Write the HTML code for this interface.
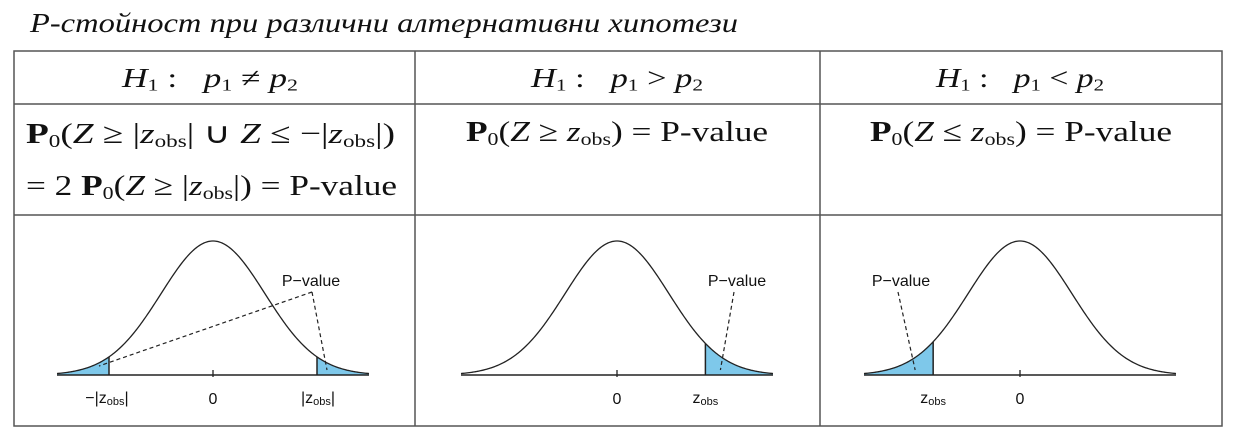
<!DOCTYPE html>
<html><head><meta charset="utf-8"><style>
body{margin:0;width:1237px;height:437px;background:#fff;overflow:hidden;font-family:"Liberation Serif",serif;}
.t{position:absolute;white-space:nowrap;color:#111;transform-origin:0 50%;}
.b{font-weight:bold}
sub{font-size:0.62em;vertical-align:-0.22em;font-style:normal}
i{font-style:italic}
</style></head><body>
<div class="t" data-w="708" style="left:30px;top:8px;font-size:27px;font-style:italic;">P-стойност при различни алтернативни хипотези</div>
<svg width="1237" height="437" style="position:absolute;left:0;top:0" id="svg">
<g stroke="#555" stroke-width="1.5" fill="none">
<rect x="14" y="51" width="1208" height="375"/>
<line x1="14" y1="104" x2="1222" y2="104"/>
<line x1="14" y1="215" x2="1222" y2="215"/>
<line x1="415" y1="51" x2="415" y2="426"/>
<line x1="820" y1="51" x2="820" y2="426"/>
</g>
</svg>
<div class="t" data-w="176" style="left:122px;top:63px;font-size:27px;"><i>H</i><sub>1</sub> :&nbsp;&nbsp; <i>p</i><sub>1</sub> ≠ <i>p</i><sub>2</sub></div>
<div class="t" data-w="172" style="left:531px;top:63px;font-size:27px;"><i>H</i><sub>1</sub> :&nbsp;&nbsp; <i>p</i><sub>1</sub> &gt; <i>p</i><sub>2</sub></div>
<div class="t" data-w="168" style="left:936px;top:63px;font-size:27px;"><i>H</i><sub>1</sub> :&nbsp;&nbsp; <i>p</i><sub>1</sub> &lt; <i>p</i><sub>2</sub></div>
<div class="t" data-w="369" style="left:26px;top:116px;font-size:29px;"><span class="b">P</span><sub>0</sub>(<i>Z</i> ≥ |<i>z</i><sub>obs</sub>| ∪ <i>Z</i> ≤ −|<i>z</i><sub>obs</sub>|)</div>
<div class="t" data-w="371" style="left:26px;top:170px;font-size:29px;">= 2 <span class="b">P</span><sub>0</sub>(<i>Z</i> ≥ |<i>z</i><sub>obs</sub>|) = P-value</div>
<div class="t" data-w="302" style="left:466px;top:116px;font-size:29px;"><span class="b">P</span><sub>0</sub>(<i>Z</i> ≥ <i>z</i><sub>obs</sub>) = P-value</div>
<div class="t" data-w="302" style="left:870px;top:116px;font-size:29px;"><span class="b">P</span><sub>0</sub>(<i>Z</i> ≤ <i>z</i><sub>obs</sub>) = P-value</div>
<script>
document.querySelectorAll('.t[data-w]').forEach(el=>{const w=el.getBoundingClientRect().width;const k=(+el.dataset.w)/w;el.style.transform='scaleX('+k+')';});
const panelCenters=[213,617,1020];
const zobsValues=[2.0,1.7,-1.67];
const tailTypes=['two','right','left'];
const NS='http://www.w3.org/2000/svg';
const svg=document.getElementById('svg');
const axisY=375, peakH=134, pxPerSd=52;
function sx(c,z){return c+z*pxPerSd;}
function sy(z){return axisY-peakH*Math.exp(-z*z/2);}
function mk(tag,attrs){const e=document.createElementNS(NS,tag);for(const k in attrs)e.setAttribute(k,attrs[k]);svg.appendChild(e);return e;}
function areaPath(c,a,b){let d=`M${sx(c,a)},${axisY}`;for(let z=a;z<=b+1e-9;z+=0.02)d+=` L${sx(c,z)},${sy(z)}`;d+=` L${sx(c,b)},${sy(b)} L${sx(c,b)},${axisY} Z`;return d;}
function txt(x,y,s,anchor,name){const t=mk('text',{x:x,y:y,'font-family':'Liberation Sans, sans-serif','font-size':16,'text-anchor':anchor||'middle',fill:'#111'});t.innerHTML=s;

return t;}
panelCenters.forEach((c,i)=>{
  const zo=zobsValues[i],type=tailTypes[i];
  const regions=type==='two'?[[-3,-Math.abs(zo)],[Math.abs(zo),3]]:type==='right'?[[zo,3]]:[[-3,zo]];
  regions.forEach(r=>{
    const p=mk('path',{d:areaPath(c,r[0],r[1]),fill:'#7ec8ea',stroke:'none'});
    
    
    const edge=r[0]===-3?r[1]:r[0];
    const l=mk('line',{x1:sx(c,edge),y1:axisY,x2:sx(c,edge),y2:sy(edge),stroke:'#222','stroke-width':1.5});
    
    
  });
  let d='';for(let z=-3;z<=3.0001;z+=0.02)d+=(d?' L':'M')+sx(c,z)+','+sy(z);
  const cv=mk('path',{d:d,fill:'none',stroke:'#222','stroke-width':1.3});
  
  
  const ax=mk('line',{x1:sx(c,-3),y1:axisY,x2:sx(c,3),y2:axisY,stroke:'#222','stroke-width':1.5});
  
  
  const tk=mk('line',{x1:c,y1:axisY-5,x2:c,y2:axisY+2,stroke:'#222','stroke-width':1.3});
  
  
  txt(c,404,'0','middle','tick-zero');
  const dash={stroke:'#222','stroke-width':1.2,'stroke-dasharray':'4,3',fill:'none'};
  if(type==='two'){
    const a=Math.abs(zo);
    txt(sx(c,-a)-2,403,'−|z<tspan font-size="11" dy="2">obs</tspan><tspan dy="-2">|</tspan>','middle','tick-neg-zobs');
    txt(sx(c,a)+1,403,'|z<tspan font-size="11" dy="2">obs</tspan><tspan dy="-2">|</tspan>','middle','tick-zobs');
    txt(311,286,'P−value','middle','p-value-label');
    const px=312,py=292;
    [[sx(c,a)+10,370],[sx(c,-a)-10,366]].forEach(q=>{const l=mk('line',Object.assign({x1:px,y1:py,x2:q[0],y2:q[1]},dash));
      
      });
  } else {
    txt(sx(c,zo),403,'z<tspan font-size="11" dy="2">obs</tspan>','middle','tick-zobs');
    const lx=type==='right'?737:901;
    txt(lx,286,'P−value','middle','p-value-label');
    const tx=type==='right'?sx(c,zo)+15:sx(c,zo)-18;
    const l=mk('line',Object.assign({x1:lx-3,y1:292,x2:tx,y2:370},dash));
    
    
  }
});
</script>
</body></html>
